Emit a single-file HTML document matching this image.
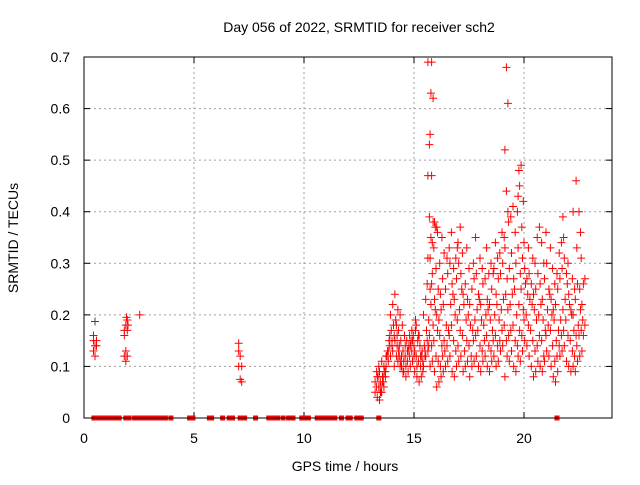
<!DOCTYPE html>
<html><head><meta charset="utf-8"><style>
body{margin:0;background:#fff;width:640px;height:480px;overflow:hidden}
svg{font-family:"Liberation Sans",sans-serif;font-size:14px}
</style></head><body>
<svg id="chart" width="640" height="480" xmlns="http://www.w3.org/2000/svg">
<rect width="640" height="480" fill="#fff"/>
<g id="grid"></g>
<g id="ticks"></g>
<g id="marks"></g>
<rect x="84" y="57" width="528" height="361" fill="none" stroke="#000" stroke-width="1"/>
<text x="359" y="32" text-anchor="middle">Day 056 of 2022, SRMTID for receiver sch2</text>
<text x="345" y="471" text-anchor="middle">GPS time / hours</text>
<text x="18" y="238" text-anchor="middle" transform="rotate(-90 18 238)">SRMTID / TECUs</text>
</svg>
<script>
const xTicks=[0,5,10,15,20];
const yTicks=[0,0.1,0.2,0.3,0.4,0.5,0.6,0.7];
const zeroHours=[0.45,0.6,0.8,1.0,1.2,1.4,1.6,1.9,2.05,2.3,2.5,2.7,2.9,3.1,3.3,3.5,3.7,3.95,4.8,4.95,5.7,5.8,6.3,6.6,6.75,7.1,7.15,7.3,7.8,8.4,8.6,8.8,9.05,9.3,9.5,9.9,10.0,10.1,10.2,10.6,10.8,11.0,11.2,11.4,11.7,12.0,12.1,12.4,12.6,13.4,21.5];
const groupHours=[0.5,1.9,2.0,2.6,7.1,13.3,13.4,13.5,13.6,13.7,13.8,13.9,14.0,14.1,14.2,14.3,14.4,14.5,14.6,14.7,14.8,14.9,15.0,15.1,15.2,15.3,15.4,15.5,15.6,15.7,15.8,15.9,16.0,16.1,16.2,16.3,16.4,16.5,16.6,16.7,16.8,16.9,17.0,17.1,17.2,17.3,17.4,17.5,17.6,17.7,17.8,17.9,18.0,18.1,18.2,18.3,18.4,18.5,18.6,18.7,18.8,18.9,19.0,19.1,19.2,19.3,19.4,19.5,19.6,19.7,19.8,19.9,20.0,20.1,20.2,20.3,20.4,20.5,20.6,20.7,20.8,20.9,21.0,21.1,21.2,21.3,21.4,21.5,21.6,21.7,21.8,21.9,22.0,22.1,22.2,22.3,22.4,22.5,22.6,22.7];
const groupValues=[
[.13,.14,.15,.15,.12,.14,.16,.187],[.17,.18,.19,.16,.13,.12,.12,.11,.17],[.195,.18],[.20],[.145,.12,.10,.10,.075,.07,.13],
[.07,.06,.08,.05,.09],[.04,.06,.07,.08,.10,.05],[.035,.05,.07,.09,.06,.08],[.05,.07,.09,.11,.08],[.06,.09,.12,.10,.08],
[.10,.13,.15,.12],[.11,.14,.17,.13,.16],[.12,.15,.18,.20,.14],[.13,.16,.19,.22,.10],[.15,.18,.21,.24,.12,.11],
[.14,.17,.20,.16,.13,.10],[.12,.15,.18,.14,.11],[.10,.13,.16,.12,.09],[.09,.12,.15,.11,.14],[.08,.11,.14,.10,.13],
[.09,.12,.15,.13,.16],[.10,.13,.16,.14,.17],[.11,.14,.17,.15,.12,.19],[.09,.12,.15,.13,.18],[.08,.11,.14,.10,.16],
[.07,.10,.13,.16,.12],[.08,.11,.14,.12,.09],[.10,.13,.17,.20,.12],[.12,.15,.19,.23,.26,.14],
[.13,.16,.22,.47,.53,.63,.69,.39,.35,.31],[.10,.14,.18,.25,.69,.62,.55,.47,.38,.31,.26],[.11,.15,.21,.28,.33,.37,.34],
[.09,.12,.17,.23,.29,.36,.38],[.06,.11,.16,.20,.25,.30,.37],[.07,.10,.14,.19,.24,.35],[.08,.12,.15,.21,.27,.32],
[.09,.13,.18,.22],[.10,.14,.17,.25,.31],[.11,.16,.22,.28,.33],[.12,.18,.24,.30,.36],[.09,.15,.20,.26,.29],
[.08,.13,.19,.23,.31,.33],[.10,.14,.21,.27,.34],[.11,.17,.25,.30,.37],[.12,.16,.22,.28,.32],[.09,.13,.19,.24],
[.10,.15,.20,.26,.33],[.11,.14,.18,.23,.29],[.08,.12,.17,.22],[.10,.15,.19,.25,.30],[.11,.16,.21,.27,.35],
[.12,.17,.23,.28],[.10,.14,.19,.24,.31],[.09,.13,.18,.22,.29],[.11,.15,.20,.26],[.12,.16,.21,.27,.33],
[.10,.14,.19,.23,.28],[.09,.13,.17,.22,.30],[.11,.15,.20,.25,.28],[.12,.16,.22,.29,.34],[.10,.14,.19,.24,.31],
[.11,.15,.21,.27,.32],[.13,.17,.23,.28,.36],[.14,.18,.24,.30,.35],[.08,.15,.21,.33,.68,.61,.52,.44,.40],
[.12,.16,.22,.27,.38],[.11,.17,.24,.29,.39],[.13,.18,.25,.32,.41],[.10,.15,.20,.27,.36],[.09,.14,.22,.30,.40,.48],
[.12,.17,.25,.33,.45,.49,.43],[.11,.16,.21,.28,.37,.42],[.13,.19,.26,.31,.34],[.15,.20,.24,.29],[.14,.18,.23,.27,.33],
[.12,.17,.22,.28],[.10,.15,.21,.26,.31],[.08,.13,.19,.24,.30],[.09,.14,.20,.25,.35],[.11,.16,.22,.28,.37],
[.10,.15,.19,.26,.34],[.09,.12,.17,.23,.30],[.11,.16,.21,.27,.36],[.13,.18,.24,.30],[.12,.17,.20,.25,.33],
[.10,.14,.19,.23,.29],[.08,.11,.15,.21,.26],[.07,.12,.17,.22,.28],[.09,.14,.19,.25,.32],[.12,.16,.21,.27,.34,.39],
[.13,.17,.23,.29,.35],[.14,.19,.26,.31],[.11,.16,.22,.28,.30],[.10,.15,.20,.24],[.09,.13,.17,.21,.27],
[.10,.12,.16,.20,.25,.46,.40],[.09,.14,.18,.23,.33],[.11,.16,.21,.26,.40,.36],[.12,.17,.19,.25,.31],[.13,.16,.18,.22,.26,.27]
];
const NS="http://www.w3.org/2000/svg";
const X0=84,X1=612,Y0=418,Y1=57,XMAX=24,YMAX=0.7;
function sx(h){return X0+(X1-X0)*h/XMAX;}
function sy(v){return Y0-(Y0-Y1)*v/YMAX;}
function mk(tag,attrs,parent){const e=document.createElementNS(NS,tag);for(const k in attrs)e.setAttribute(k,attrs[k]);parent.appendChild(e);return e;}
const grid=document.getElementById('grid'),ticks=document.getElementById('ticks'),marks=document.getElementById('marks');
xTicks.forEach(t=>{const x=sx(t);
 if(t>0){const g=mk('line',{x1:x,x2:x,y1:Y1,y2:Y0,stroke:'#a0a0a0','stroke-dasharray':'2,3'},grid);
 
 }
 mk('line',{x1:x,x2:x,y1:Y0,y2:Y0-6,stroke:'#000'},ticks);mk('line',{x1:x,x2:x,y1:Y1,y2:Y1+6,stroke:'#000'},ticks);
 const l=mk('text',{x:x,y:443,'text-anchor':'middle'},ticks);l.textContent=t;
 
 });
yTicks.forEach(t=>{const y=sy(t);
 if(t>0&&t<0.7){const g=mk('line',{x1:X0,x2:X1,y1:y,y2:y,stroke:'#a0a0a0','stroke-dasharray':'2,3'},grid);
 
 }
 mk('line',{x1:X0,x2:X0+6,y1:y,y2:y,stroke:'#000'},ticks);mk('line',{x1:X1,x2:X1-6,y1:y,y2:y,stroke:'#000'},ticks);
 const l=mk('text',{x:70,y:y+5,'text-anchor':'end'},ticks);l.textContent=t===0?'0':t.toFixed(1);
 
 });
function plus(x,y,c){const p=mk('path',{d:`M${x-4},${y}h8M${x},${y-4}v8`,stroke:c,'stroke-width':1,fill:'none'},marks);
 
 }
zeroHours.forEach(h=>{const r=mk('rect',{x:sx(h)-2.5,y:Y0-2.5,width:5,height:5,fill:'#f00'},marks);
 
 });
groupHours.forEach((h,i)=>{groupValues[i].forEach((v,j)=>{const dx=((j%3)-1)*1.5;plus(sx(h)+dx,sy(v),(j===7&&i===0)?'#444':'#f00');});});
</script>
</body></html>
